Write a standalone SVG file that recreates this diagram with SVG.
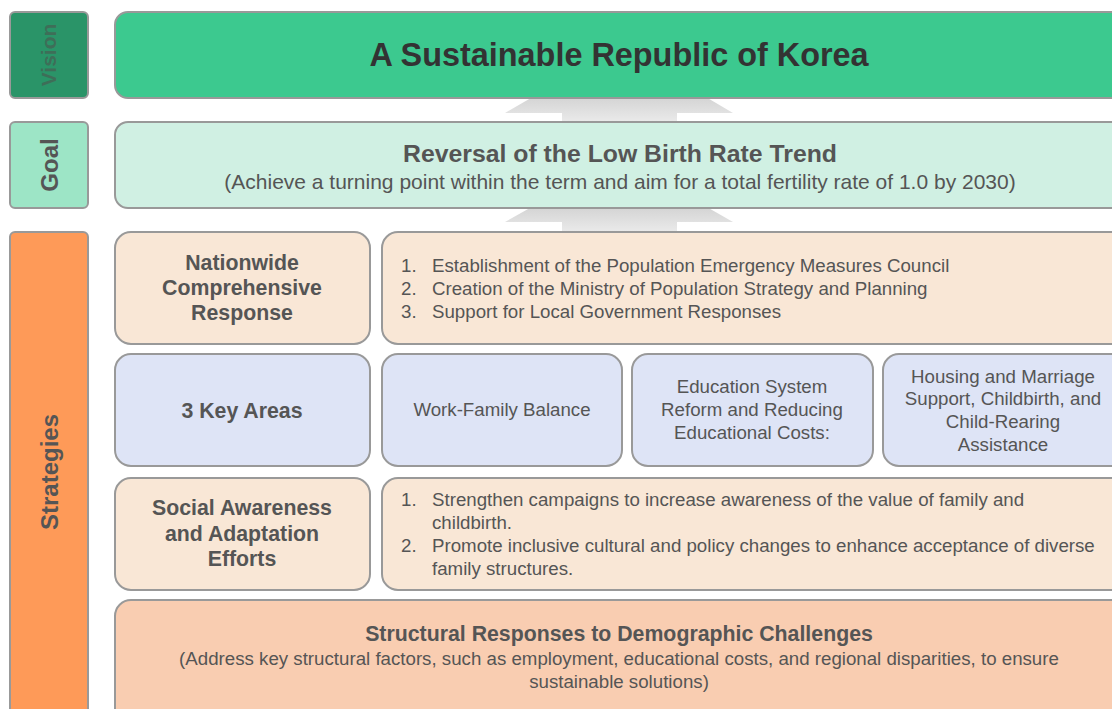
<svg xmlns="http://www.w3.org/2000/svg" width="1112" height="709" viewBox="0 0 1112 709">
<style>
.box{stroke:#999;stroke-width:2}
.lbl{font-family:"Liberation Sans",Arial,sans-serif;font-weight:bold;text-anchor:middle}
.hd{font-family:"Liberation Sans",Arial,sans-serif;font-weight:bold;fill:#555;text-anchor:middle;font-size:21.3px}
.tx{font-family:"Liberation Sans",Arial,sans-serif;fill:#555;font-size:18.7px}
.txc{font-family:"Liberation Sans",Arial,sans-serif;fill:#555;font-size:18.7px;text-anchor:middle}
.beige{fill:#f9e7d6}
.blue{fill:#dee4f6}
</style>
<defs>
<linearGradient id="ag" x1="0" y1="0" x2="0" y2="1">
<stop offset="0" stop-color="#c4c4c4"/>
<stop offset="1" stop-color="#ececec"/>
</linearGradient>
</defs>
<rect width="1112" height="709" fill="#ffffff"/>
<g id="connectors">
<path d="M562,80 L677,80 L733,113 L677,113 L677,124 L562,124 L562,113 L505,113 Z" fill="url(#ag)"/>
<path d="M562,190 L677,190 L733,222 L677,222 L677,234 L562,234 L562,222 L505,222 Z" fill="url(#ag)"/>
</g>
<g id="vision-label">
<rect class="box" x="10" y="12" width="78" height="86" rx="5" fill="#2a9468"/>
<text class="lbl" transform="translate(56,55) rotate(-90)" font-size="21" fill="#3e6e58">Vision</text>
</g>
<g id="vision">
<rect class="box" x="115" y="12" width="1010" height="86" rx="13" fill="#3cc98f"/>
<text class="hd" x="619" y="66" style="font-size:32.4px;fill:#333">A Sustainable Republic of Korea</text>
</g>
<g id="goal-label">
<rect class="box" x="10" y="122" width="78" height="86" rx="5" fill="#9de5c6"/>
<text class="lbl" transform="translate(58,165) rotate(-90)" font-size="24" fill="#555">Goal</text>
</g>
<g id="goal">
<rect class="box" x="115" y="122" width="1010" height="86" rx="13" fill="#d0f0e3"/>
<text class="hd" x="620" y="162" style="font-size:24.8px">Reversal of the Low Birth Rate Trend</text>
<text class="txc" x="620" y="189" style="font-size:21px">(Achieve a turning point within the term and aim for a total fertility rate of 1.0 by 2030)</text>
</g>
<g id="strategies-label">
<rect class="box" x="10" y="232" width="78" height="500" rx="5" fill="#fe9a58"/>
<text class="lbl" transform="translate(58,472) rotate(-90)" font-size="24" fill="#555">Strategies</text>
</g>
<g id="nationwide">
<rect class="box beige" x="115" y="232" width="255" height="112" rx="16"/>
<text class="hd" x="242" y="270">Nationwide</text>
<text class="hd" x="242" y="295">Comprehensive</text>
<text class="hd" x="242" y="320">Response</text>
</g>
<g id="nationwide-items">
<rect class="box beige" x="382" y="232" width="745" height="112" rx="16"/>
<text class="tx" x="401" y="272">1.</text><text class="tx" x="432" y="272">Establishment of the Population Emergency Measures Council</text>
<text class="tx" x="401" y="295">2.</text><text class="tx" x="432" y="295">Creation of the Ministry of Population Strategy and Planning</text>
<text class="tx" x="401" y="318">3.</text><text class="tx" x="432" y="318">Support for Local Government Responses</text>
</g>
<g id="key-areas">
<rect class="box blue" x="115" y="354" width="255" height="112" rx="16"/>
<text class="hd" x="242" y="418">3 Key Areas</text>
</g>
<g id="work-family">
<rect class="box blue" x="382" y="354" width="240" height="112" rx="16"/>
<text class="txc" x="502" y="416">Work-Family Balance</text>
</g>
<g id="education">
<rect class="box blue" x="632" y="354" width="241" height="112" rx="16"/>
<text class="txc" x="752" y="393">Education System</text>
<text class="txc" x="752" y="416">Reform and Reducing</text>
<text class="txc" x="752" y="439">Educational Costs:</text>
</g>
<g id="housing">
<rect class="box blue" x="883" y="354" width="245" height="112" rx="16"/>
<text class="txc" x="1003" y="383">Housing and Marriage</text>
<text class="txc" x="1003" y="405">Support, Childbirth, and</text>
<text class="txc" x="1003" y="428">Child-Rearing</text>
<text class="txc" x="1003" y="451">Assistance</text>
</g>
<g id="social">
<rect class="box beige" x="115" y="478" width="255" height="112" rx="16"/>
<text class="hd" x="242" y="515">Social Awareness</text>
<text class="hd" x="242" y="541">and Adaptation</text>
<text class="hd" x="242" y="566">Efforts</text>
</g>
<g id="social-items">
<rect class="box beige" x="382" y="478" width="745" height="112" rx="16"/>
<text class="tx" x="401" y="506">1.</text><text class="tx" x="432" y="506">Strengthen campaigns to increase awareness of the value of family and</text>
<text class="tx" x="432" y="529">childbirth.</text>
<text class="tx" x="401" y="552">2.</text><text class="tx" x="432" y="552">Promote inclusive cultural and policy changes to enhance acceptance of diverse</text>
<text class="tx" x="432" y="575">family structures.</text>
</g>
<g id="structural">
<rect class="box" x="115" y="600" width="1012" height="130" rx="16" fill="#f9cdb1"/>
<text class="hd" x="619" y="641">Structural Responses to Demographic Challenges</text>
<text class="txc" x="619" y="665">(Address key structural factors, such as employment, educational costs, and regional disparities, to ensure</text>
<text class="txc" x="619" y="688">sustainable solutions)</text>
</g>
</svg>
